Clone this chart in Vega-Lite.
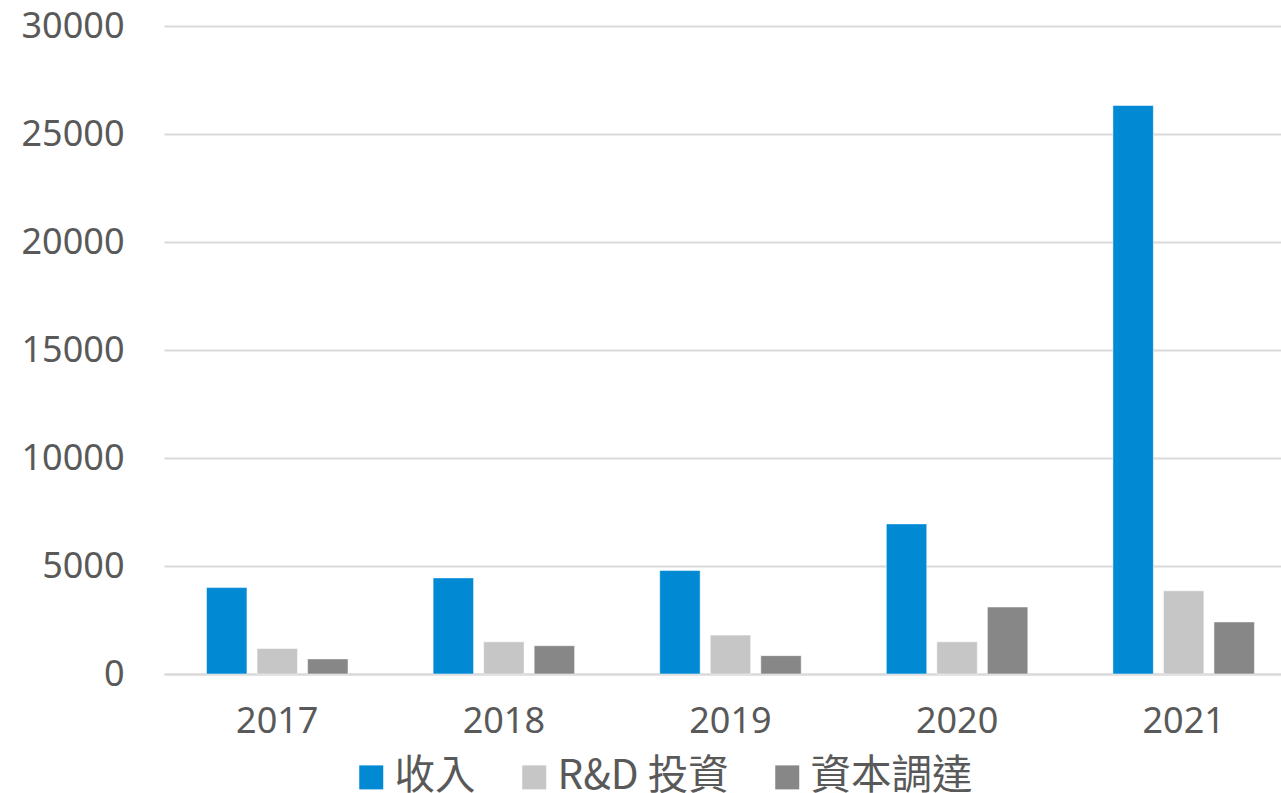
{
  "$schema": "https://vega.github.io/schema/vega-lite/v6.json",
  "width": 1117,
  "height": 648,
  "autosize": "none",
  "padding": {"left": 164, "top": 26, "right": 0, "bottom": 119},
  "background": "white",
  "data": {
    "values": [
      {"year": "2017", "series": "收入", "value": 4000},
      {"year": "2017", "series": "R&D 投資", "value": 1180},
      {"year": "2017", "series": "資本調達", "value": 700},
      {"year": "2018", "series": "收入", "value": 4450},
      {"year": "2018", "series": "R&D 投資", "value": 1490},
      {"year": "2018", "series": "資本調達", "value": 1310},
      {"year": "2019", "series": "收入", "value": 4790},
      {"year": "2019", "series": "R&D 投資", "value": 1800},
      {"year": "2019", "series": "資本調達", "value": 850},
      {"year": "2020", "series": "收入", "value": 6950},
      {"year": "2020", "series": "R&D 投資", "value": 1490},
      {"year": "2020", "series": "資本調達", "value": 3100},
      {"year": "2021", "series": "收入", "value": 26320},
      {"year": "2021", "series": "R&D 投資", "value": 3850},
      {"year": "2021", "series": "資本調達", "value": 2410}
    ]
  },
  "mark": {"type": "bar", "stroke": "white", "strokeWidth": 0.5},
  "encoding": {
    "x": {
      "field": "year",
      "type": "nominal",
      "scale": {"paddingInner": 0.331, "paddingOuter": 0.1302, "align": 0.635},
      "axis": {
        "title": null,
        "labelAngle": 0,
        "labelFont": "Noto Sans",
        "labelFontSize": 36,
        "labelColor": "#595959",
        "labelPadding": 30,
        "ticks": false,
        "domain": true,
        "domainColor": "#D9D9D9",
        "domainWidth": 2,
        "grid": false
      }
    },
    "xOffset": {
      "field": "series",
      "type": "nominal",
      "sort": ["收入", "R&D 投資", "資本調達"],
      "scale": {"paddingInner": 0.2, "paddingOuter": 0.1}
    },
    "y": {
      "field": "value",
      "type": "quantitative",
      "scale": {"domain": [0, 30000], "nice": false},
      "axis": {
        "title": null,
        "values": [0, 5000, 10000, 15000, 20000, 25000, 30000],
        "format": "d",
        "labelFont": "Noto Sans",
        "labelFontSize": 36,
        "labelColor": "#595959",
        "labelPadding": 40,
        "ticks": false,
        "domain": false,
        "grid": true,
        "gridColor": "#D9D9D9",
        "gridWidth": 2
      }
    },
    "color": {
      "field": "series",
      "type": "nominal",
      "scale": {
        "domain": ["收入", "R&D 投資", "資本調達"],
        "range": ["#0289D3", "#C6C6C6", "#878787"]
      },
      "legend": {
        "title": null,
        "orient": "none",
        "direction": "horizontal",
        "legendX": 187,
        "legendY": 731,
        "symbolType": "square",
        "symbolSize": 576,
        "symbolStrokeWidth": 0,
        "symbolOpacity": 1,
        "labelFont": "Noto Sans CJK TC",
        "labelFontSize": 40.5,
        "labelColor": "#595959",
        "labelOffset": 3,
        "columnPadding": 38,
        "labelLimit": 400
      }
    }
  },
  "config": {"view": {"stroke": null}}
}
